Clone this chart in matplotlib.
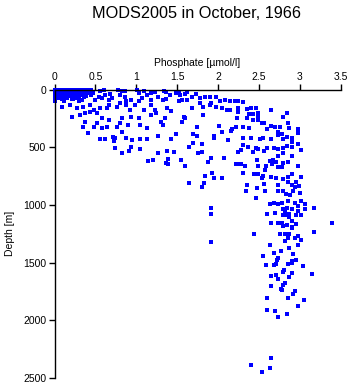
import numpy as np
import matplotlib
matplotlib.use("Agg")
import matplotlib.pyplot as plt

plt.rcParams['font.family'] = ['Liberation Sans', 'DejaVu Sans']

# surface layer, low phosphate
surf_phos = [0.00, 0.03, 0.06, 0.09, 0.12, 0.15, 0.18, 0.21, 0.24, 0.27, 0.30, 0.33, 0.36, 0.40, 0.44,
             0.01, 0.04, 0.07, 0.10, 0.13, 0.16, 0.19, 0.22, 0.26, 0.29, 0.32, 0.35, 0.38, 0.42,
             0.00, 0.02, 0.05, 0.08, 0.11, 0.14, 0.17, 0.20, 0.23, 0.27, 0.30, 0.34, 0.37, 0.40, 0.47,
             0.01, 0.04, 0.07, 0.10, 0.13, 0.17, 0.20, 0.24, 0.28, 0.31, 0.35, 0.39, 0.45,
             0.01, 0.03, 0.06, 0.10, 0.14, 0.18, 0.22, 0.26, 0.30, 0.36,
             0.01, 0.05, 0.09, 0.15, 0.21, 0.27, 0.33,
             0.01, 0.12, 0.23, 0.30, 0.50]
surf_depth = [0, 0, 0, 0, 0, 0, 0, 0, 0, 0, 0, 0, 0, 0, 5,
              10, 10, 12, 10, 10, 12, 10, 10, 12, 10, 10, 12, 10, 15,
              20, 25, 20, 25, 20, 25, 20, 25, 20, 25, 20, 25, 20, 30, 25,
              35, 40, 35, 40, 35, 40, 35, 40, 35, 45, 40, 50, 45,
              50, 60, 55, 50, 60, 55, 50, 60, 65, 60,
              75, 70, 80, 75, 80, 75, 85,
              100, 95, 81, 101, 87]

# upper 350 m, phosphate below 1.2
upper_phos = [0.56, 0.60, 0.54, 0.58, 0.62, 0.68, 0.70, 0.66, 0.78, 0.82, 0.86, 0.80, 0.86, 0.94, 0.88,
              1.01, 1.03, 1.09, 1.13, 1.03, 1.07,
              0.09, 0.19, 0.27, 0.35, 0.43, 0.48, 0.56, 0.64, 0.66, 0.76, 0.80, 0.88, 0.92, 0.99, 1.09,
              0.21, 0.31, 0.37, 0.43, 0.52, 0.58, 0.66, 0.82, 0.94, 1.03,
              0.37, 0.35, 0.48, 0.52, 0.58, 0.64, 0.76, 0.80, 0.90, 1.05, 1.13]
upper_depth = [9, 0, 58, 72, 43, 38, 72, 87, 0, 14, 9, 43, 58, 87, 96,
               0, 29, 14, 43, 101, 72,
               145, 130, 159, 145, 130, 174, 159, 159, 130, 145, 116, 130, 174, 130, 174,
               238, 217, 203, 188, 203, 246, 261, 246, 232, 246,
               281, 319, 319, 290, 333, 319, 319, 290, 304, 304, 333]

# upper 350 m, phosphate 1.2 - 2.3
mid_phos = [1.18, 1.23, 1.26, 1.34, 1.36, 1.41, 1.49, 1.52, 1.54, 1.60, 1.62, 1.68, 1.73, 1.78, 1.84,
            1.90, 1.98, 2.03, 2.09, 2.15, 2.21, 2.25,
            1.18, 1.18, 1.23, 1.24, 1.18,
            1.33, 1.36, 1.52, 1.56, 1.62, 1.68, 1.78, 1.82, 1.90, 1.92, 1.98, 2.05, 2.11, 2.15, 2.24, 2.24,
            1.37, 1.43, 1.58, 1.60, 1.82, 2.23,
            1.35, 1.30, 1.33, 1.56, 1.74, 2.01, 2.17, 2.22]
mid_depth = [29, 20, 58, 6, 20, 43, 29, 20, 43, 38, 20, 58, 38, 72, 58,
             58, 58, 96, 87, 101, 101, 96,
             87, 130, 174, 203, 217,
             87, 78, 101, 87, 87, 159, 116, 145, 130, 116, 145, 154, 174, 174, 159, 194,
             159, 183, 232, 246, 217, 246,
             246, 281, 304, 281, 319, 310, 339, 319]

# below 350 m, phosphate below 2.3
low_phos = [0.41, 0.83, 0.56, 0.62, 0.72, 0.74, 0.73, 0.88, 0.95, 1.05, 1.13, 1.26, 1.48, 1.43, 1.69,
            1.74, 1.95, 1.95, 2.05, 2.16, 2.12,
            0.74, 0.83, 0.91, 0.93, 1.05, 1.14, 1.21, 1.26, 1.37, 1.39, 1.36, 1.39, 1.46, 1.55, 1.60,
            1.65, 1.69, 1.81, 1.76, 1.80, 1.88, 1.92, 2.07, 2.24, 2.22, 2.25,
            1.93, 1.84, 1.95, 2.05, 1.83, 1.81, 1.64, 1.92, 1.91, 1.91]
low_depth = [371, 365, 429, 429, 406, 420, 441, 420, 438, 429, 429, 403, 380, 429, 386,
             403, 403, 420, 368, 360, 438,
             507, 545, 533, 499, 516, 620, 612, 551, 533, 603, 638, 646, 542, 612, 658,
             499, 464, 472, 545, 542, 623, 594, 594, 542, 644, 644,
             725, 751, 768, 768, 812, 846, 812, 1029, 1081, 1325]

# phosphate above 2.3, down to 870 m
high_phos = [2.31, 2.35, 2.41, 2.47, 2.38, 2.43, 2.49, 2.49, 2.35, 2.43, 2.49, 2.65, 2.85, 2.79,
             2.31, 2.38, 2.54, 2.56, 2.60, 2.65, 2.70, 2.76, 2.73, 2.78, 2.86, 2.87, 2.98, 2.98,
             2.31, 2.41, 2.51, 2.55, 2.65, 2.73, 2.80, 2.85, 2.91, 2.31, 2.37, 2.47, 2.49, 2.43, 2.56,
             2.60, 2.69, 2.74, 2.80, 2.85, 2.90, 2.90, 2.98, 3.02, 2.28,
             2.73, 2.79, 2.91, 2.28, 2.33, 2.48, 2.49, 2.59, 2.64, 2.67, 2.66, 2.71, 2.73, 2.78, 2.79,
             2.86, 2.98, 2.58,
             2.31, 2.44, 2.49, 2.55, 2.54, 2.65, 2.71, 2.80, 2.86, 2.91, 2.86, 2.90, 2.96, 3.01, 2.99,
             2.94, 2.36, 2.48, 2.56, 2.73]
high_depth = [107, 165, 154, 159, 212, 212, 203, 223, 246, 261, 261, 174, 203, 232,
              319, 328, 290, 290, 339, 310, 319, 319, 368, 386, 290, 328, 342, 377,
              415, 415, 426, 415, 426, 391, 426, 406, 420, 478, 493, 502, 513, 542, 530,
              502, 502, 513, 502, 487, 455, 493, 473, 522, 522,
              571, 551, 571, 646, 658, 609, 658, 658, 617, 609, 646, 623, 667, 667, 638,
              629, 658, 696,
              725, 733, 733, 745, 762, 754, 762, 774, 754, 733, 797, 826, 797, 754, 832,
              841, 826, 855, 820, 826]

# deep water
deep_phos = [2.34, 2.58, 2.73, 2.80, 2.92, 2.83, 2.88, 3.00, 2.47, 2.86, 2.64, 2.69, 2.73, 2.78, 2.94,
             3.02, 3.07, 2.79, 2.85, 2.91, 2.98, 2.98, 3.07, 3.18, 2.82, 2.60, 2.70, 2.79, 2.82, 2.87,
             2.87, 2.96, 3.02, 2.90, 2.65, 2.74, 2.78, 2.85, 2.80, 2.90, 2.96, 2.91, 3.39, 3.18, 2.44,
             2.76, 2.82, 2.87, 2.98, 3.02, 2.94, 2.86, 2.82, 2.98, 2.87, 2.64, 2.77, 2.69, 2.55, 2.92,
             2.73, 2.72, 2.71, 2.91, 2.90, 2.96, 2.86, 2.59, 2.69, 3.04, 2.81, 2.79, 2.91, 3.15, 2.71,
             2.65, 2.73, 2.87, 2.82, 2.80, 2.65, 2.77, 2.78, 2.94, 2.92, 2.86, 2.60, 3.05,
             2.98, 2.60, 2.70, 2.85, 2.73, 2.65, 2.41, 2.64, 2.54]
deep_depth = [876, 876, 876, 876, 876, 905, 913, 899, 942, 963, 992, 980, 992, 986, 980,
              963, 992, 1038, 1029, 1038, 1009, 1050, 1038, 1029, 1050, 1079, 1073, 1087, 1087, 1079,
              1102, 1087, 1087, 1137, 1160, 1160, 1154, 1174, 1183, 1189, 1166, 1203, 1160, 1232, 1247,
              1253, 1247, 1247, 1270, 1299, 1290, 1290, 1311, 1348, 1369, 1348, 1398, 1415, 1438, 1427,
              1456, 1479, 1508, 1485, 1502, 1473, 1514, 1522, 1522, 1531, 1566, 1580, 1589, 1595, 1609,
              1618, 1638, 1624, 1676, 1696, 1705, 1725, 1734, 1745, 1774, 1803, 1803, 1821,
              1878, 1907, 1919, 1942, 1971, 2325, 2386, 2415, 2452]

phos = np.concatenate([surf_phos, upper_phos, mid_phos, low_phos, high_phos, deep_phos])
depth = np.concatenate([surf_depth, upper_depth, mid_depth, low_depth, high_depth, deep_depth])

fig = plt.figure(figsize=(3.5, 3.84), dpi=100)
ax = fig.add_axes([0.156, 0.016, 0.817, 0.75])

ax.plot(phos, depth, 's', color='#0000ff', ms=2.2, mew=0, clip_on=False)

ax.set_xlim(0, 3.5)
ax.set_ylim(2500, 0)
ax.set_xticks([0, 0.5, 1, 1.5, 2, 2.5, 3, 3.5])
ax.set_xticklabels(['0', '0.5', '1', '1.5', '2', '2.5', '3', '3.5'])
ax.set_yticks([0, 500, 1000, 1500, 2000, 2500])

ax.xaxis.tick_top()
ax.xaxis.set_label_position('top')
ax.spines['right'].set_visible(False)
ax.spines['bottom'].set_visible(False)
for s in ['top', 'left']:
    ax.spines[s].set_linewidth(1.0)
ax.tick_params(direction='out', length=4, width=1.0, labelsize=7.5, pad=2)

ax.set_xlabel('Phosphate [µmol/l]', fontsize=7.5, labelpad=4)
ax.set_ylabel('Depth [m]', fontsize=7.5, labelpad=6)

fig.text(0.561, 0.965, 'MODS2005 in October, 1966', ha='center', va='center', fontsize=11.7)

fig.savefig('out.png', dpi=100)
